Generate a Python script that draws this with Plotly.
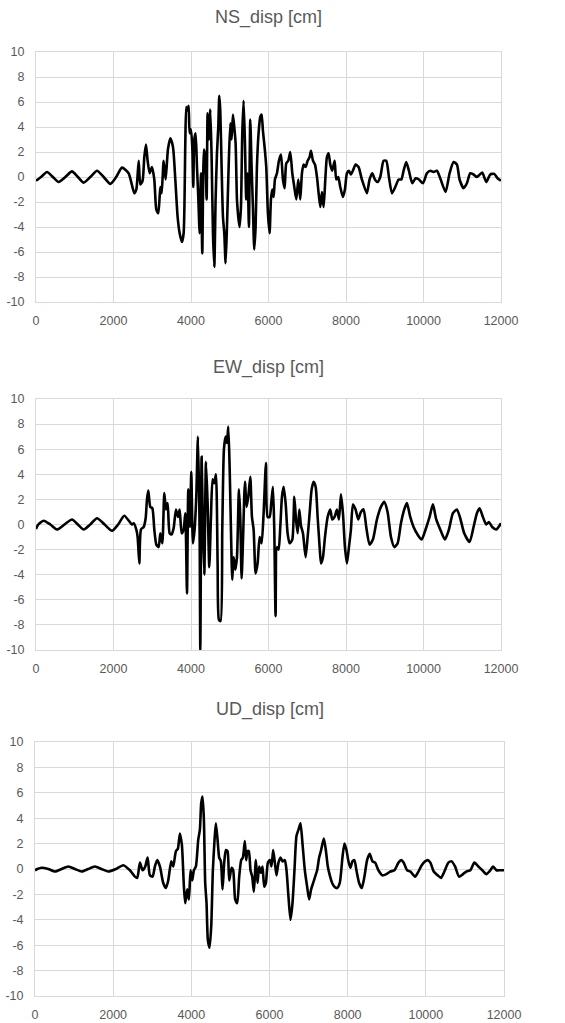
####### IMPORTS #######
import plotly.graph_objects as go
from plotly.subplots import make_subplots
####### IMPORTS #######

####### DADOS #######
# Valores (tempo x deslocamento em cm)
t_ns = [0, 130, 284, 435, 585, 757, 929, 1080, 1230, 1402, 1574, 1746, 1918, 2070, 2219, 2390, 2537, 2589,
        2650, 2692, 2750, 2795, 2838, 2881, 2933,
        2993, 3053, 3105, 3157, 3208, 3242, 3294, 3345, 3405, 3466, 3535, 3595, 3655, 3707, 3767, 3810, 3853,
        3879, 3913, 3939, 3965, 3999, 4033, 4059, 4085, 4119, 4154, 4188, 4223, 4257, 4291, 4334, 4369, 4403,
        4429, 4463, 4498, 4532, 4567, 4601, 4635, 4670, 4704, 4730, 4756, 4790, 4825, 4859, 4893, 4928, 4971,
        5014, 5048, 5082, 5117, 5151, 5186, 5220, 5254, 5289, 5323, 5357, 5392, 5426, 5460, 5495, 5529, 5564,
        5598, 5632, 5667, 5701, 5744, 5787, 5822, 5856, 5899, 5942, 5985, 6028, 6063, 6097, 6132, 6166, 6218,
        6269, 6321, 6373, 6416, 6459, 6510, 6562, 6614, 6666, 6717, 6769, 6820, 6863, 6906, 6958, 7010, 7062,
        7096, 7148, 7199, 7251, 7294, 7337, 7380, 7423, 7466, 7508, 7551, 7594, 7645, 7706, 7749, 7800, 7852,
        7921, 7972, 8024, 8075, 8127, 8178, 8247, 8324, 8410, 8539, 8608, 8677, 8746, 8815, 8884, 8970, 9039,
        9108, 9186, 9272, 9358, 9427, 9486, 9555, 9624, 9710, 9796, 9882, 9985, 10088, 10174, 10260, 10346,
        10432, 10570, 10673, 10776, 10862, 10931, 11034, 11120, 11206, 11292, 11378, 11515, 11618, 11722,
        11825, 11911, 12000]
ns_disp = [-0.3, 0.0, 0.4, 0.0, -0.4, 0.0, 0.45, 0.0, -0.45, 0.0, 0.5, 0.0, -0.55, 0.0, 0.75, 0.3, -1.3, -1.0,
           1.3, -0.6, -0.3, 1.6, 2.6, 1.3, 0.3,
           0.8, -0.2, -2.6, -2.9, -0.8, -1.3, 1.3, -0.2, 2.2, 3.1, 2.4, -0.2, -3.2, -4.5, -5.2, -4.5, 2.7,
           5.6, 5.3, 5.7, 3.5, 3.8, 2.4, -0.8, 3.0, 3.5, 0.8, -1.6, -4.5, 0.3, -6.1, 2.2, 1.6, -1.8,
           5.1, 3.0, 5.4, 1.6, -4.5, -7.2, -1.8, 1.9, 4.0, 6.5, 5.3, 0.8, -3.2, -4.5, -6.9, -4.0, 0.8,
           4.3, 3.0, 5.0, 4.0, 2.7, -1.8, -3.2, -4.0, -2.4, 3.5, 6.1, 2.7, -1.8, 0.3, -4.0, 4.6, 0.8,
           -2.4, -5.8, -4.0, 0.8, 3.5, 4.8, 5.0, 3.7, 2.4, 0.8, -2.9, -4.5, -1.8, -1.0, -1.6, -0.2, 0.3,
           1.3, 1.8, -0.2, -0.9, 1.1, 1.3, 2.0, 0.3, -0.8, -1.8, -0.2, -1.8, 0.3, 1.0, 0.8, 1.3, 1.6,
           2.1, 1.3, 1.0, 0.0, -1.3, -2.4, -1.2, -2.4, -0.2, 1.6, 1.9, 1.0, 0.5, 1.3, -0.2, 0.0, -0.8,
           -1.6, -1.0, 0.3, 0.5, 0.2, 0.5, 1.0, 0.8, -0.2, -1.3, -0.2, 0.3, -0.2, -0.4, 0.0, 1.3, 1.3,
           0.0, -1.3, -0.8, -0.2, -0.2, 0.5, 1.2, 0.5, -0.5, -0.1, -0.2, -0.5, 0.3, 0.5, 0.4, 0.5,
           -0.1, -1.2, 0.3, 1.2, 1.0, -0.2, -0.9, -0.5, 0.3, 0.2, 0.0, 0.35, -0.4, 0.2,
           0.25, -0.1, -0.3]

t_ew = [0, 60, 198, 370, 542, 735, 929, 1080, 1230, 1400, 1574, 1770, 1961, 2120, 2279, 2477, 2520, 2589,
        2623, 2666, 2709, 2778, 2830, 2864, 2898,
        2950, 3002, 3053, 3105, 3165, 3208, 3260, 3311, 3354, 3397, 3449, 3500, 3552, 3612, 3664, 3707, 3759,
        3810, 3853, 3896, 3930, 3973, 4007, 4050, 4093, 4136, 4179, 4222, 4240, 4274, 4309, 4343, 4386, 4429,
        4472, 4515, 4558, 4601, 4644, 4687, 4721, 4764, 4807, 4850, 4893, 4928, 4962, 4997, 5031, 5065, 5100,
        5143, 5186, 5237, 5272, 5306, 5340, 5392, 5435, 5478, 5530, 5573, 5616, 5667, 5719, 5771, 5822, 5874,
        5934, 5977, 6029, 6071, 6114, 6149, 6183, 6218, 6261, 6304, 6347, 6390, 6442, 6493, 6545, 6614, 6666,
        6709, 6752, 6795, 6838, 6889, 6958, 7010, 7062, 7113, 7165, 7217, 7268, 7320, 7354, 7406, 7457, 7526,
        7594, 7646, 7706, 7766, 7818, 7870, 7921, 7973, 8024, 8076, 8127, 8179, 8247, 8316, 8385, 8454, 8522,
        8608, 8694, 8798, 8901, 8987, 9073, 9160, 9246, 9332, 9418, 9504, 9572, 9658, 9744, 9847, 9951, 10054,
        10157, 10243, 10329, 10432, 10553, 10656, 10759, 10862, 10948, 11051, 11189, 11292, 11378, 11447,
        11533, 11618, 11687, 11773, 11876, 12000]
ew_disp = [-0.35, 0.0, 0.3, 0.0, -0.4, 0.0, 0.4, 0.0, -0.4, 0.0, 0.5, 0.0, -0.5, 0.0, 0.7, 0.0, 0.1, -0.4,
           -1.0, -3.1, -0.4, -0.2, 0.5, 2.0, 2.7,
           1.4, 1.3, -0.4, -1.6, -1.8, -0.7, -1.5, 2.5, 1.2, 1.7, -0.7, -0.8, -0.3, 1.2, 0.6, 1.2, -0.7,
           -0.4, 0.9, -5.5, 2.8, -0.2, 4.2, -1.5, -0.4, 2.2, 7.0, -0.4, -10.0, 5.4, -0.4, -4.0, 5.0, 1.7,
           -3.4, 0.6, 3.6, 3.3, 4.0, -3.1, -7.6, -7.7, -0.4, 6.0, 7.0, 6.5, 7.8, 4.6, -0.4, -4.4, -2.6,
           -3.6, -2.6, 2.8, 0.6, -4.3, -1.5, 3.4, 1.4, 2.2, 3.8, 0.6, -0.4, -3.9, -3.1, -1.0, -1.5, 0.9,
           4.9, 0.6, 0.6, 1.7, 3.0, -0.4, -7.3, -1.8, -2.0, -0.2, 2.2, 3.0, 1.7, -0.7, -1.5, -1.2, 2.2,
           0.4, -0.7, 1.2, -0.1, -0.7, -2.6, -1.0, 0.9, 2.8, 3.4, 3.0, 0.6, -1.8, -3.1, -2.6, -1.0, 0.6,
           1.2, 0.4, 0.6, 1.2, 0.4, 2.4, 0.9, -1.8, -3.1, -1.8, -0.4, 1.6, 1.2, 0.4, 1.0, 1.2, -0.2,
           -1.6, -1.2, 0.4, 1.4, 1.8, 1.0, -1.0, -1.8, -1.5, 0.1, 1.2, 1.7, 0.6, -0.2, -0.8, -1.2, -0.4,
           0.6, 1.6, 0.4, -0.4, -1.2, -0.4, 0.9, 1.2, 0.5, -0.7, -1.4, -0.2, 0.9, 1.3,
           0.6, 0.0, 0.2, -0.2, -0.4, 0.1]

t_ud = [0, 60, 170, 340, 511, 680, 852, 1020, 1193, 1360, 1534, 1700, 1875, 2070, 2259, 2429, 2557, 2617,
        2685, 2753, 2821, 2881, 2940, 3009, 3068,
        3128, 3196, 3281, 3349, 3409, 3486, 3537, 3605, 3656, 3707, 3758, 3810, 3844, 3895, 3938, 3980, 4023,
        4065, 4117, 4176, 4219, 4253, 4287, 4321, 4355, 4389, 4423, 4466, 4509, 4551, 4594, 4628, 4671, 4713,
        4756, 4798, 4841, 4884, 4926, 4969, 5029, 5071, 5122, 5174, 5225, 5276, 5318, 5369, 5403, 5437, 5471,
        5514, 5557, 5600, 5651, 5693, 5736, 5779, 5822, 5864, 5907, 5958, 6009, 6051, 6094, 6137, 6179, 6230,
        6282, 6333, 6392, 6435, 6486, 6537, 6588, 6639, 6690, 6742, 6793, 6844, 6904, 6963, 7014, 7065, 7117,
        7168, 7219, 7270, 7321, 7390, 7441, 7492, 7543, 7603, 7662, 7730, 7798, 7866, 7918, 7969, 8020, 8071,
        8122, 8173, 8224, 8293, 8361, 8429, 8497, 8565, 8634, 8702, 8787, 8889, 8992, 9094, 9196, 9299, 9370,
        9435, 9520, 9605, 9725, 9810, 9895, 9980, 10049, 10117, 10202, 10304, 10389, 10475, 10577, 10662,
        10747, 10850, 10952, 11037, 11140, 11242, 11344, 11446, 11549, 11651, 11719, 11804, 11906, 12000]
ud_disp = [-0.1, 0.0, 0.1, 0.0, -0.2, 0.0, 0.2, 0.0, -0.2, 0.0, 0.2, 0.0, -0.2, 0.0, 0.3, -0.1, -0.6, -0.7,
           0.5, -0.1, 0.2, 0.9, -0.5, -0.6, 0.2,
           0.7, 0.2, -1.1, -1.5, -0.9, 0.6, 0.2, 1.4, 1.6, 2.8, 1.9, -1.4, -2.7, -1.6, -2.4, -0.1, -0.9,
           -0.1, 0.2, 2.3, 3.1, 5.2, 5.7, 3.9, -1.1, -2.7, -5.6, -6.2, -4.5, -0.1, 2.3, 3.6, 2.3, 0.9,
           0.6, -1.6, 0.5, 1.5, 1.4, -0.9, 0.1, -0.1, -2.4, -2.7, -0.6, 0.7, 0.9, 2.2, 0.7, 1.4, 1.4,
           -0.1, -0.6, -1.8, 0.7, -1.1, 0.2, -0.3, 0.2, -1.4, -1.1, 0.5, 0.7, 0.2, 1.5, 0.5, -0.5, 0.5,
           0.9, 0.6, 0.7, -0.1, -2.2, -4.0, -2.7, -0.1, 2.6, 3.1, 3.6, 2.0, -0.1, -1.4, -2.4, -1.6, -1.1,
           -0.6, -0.1, 0.9, 1.5, 2.4, 1.5, 0.2, -0.5, -1.1, -1.4, -1.5, -1.1, 0.9, 2.0, 1.5, 0.6, 0.1,
           0.6, 0.7, -0.1, -1.1, -1.5, -0.6, 0.7, 1.2, 0.6, 0.5, -0.1, -0.5, -0.4, -0.2, -0.1, 0.5, 0.7,
           0.5, -0.1, -0.2, -0.6, -0.2, 0.3, 0.6, 0.7, 0.5, -0.2, -0.5, -0.7, -0.2, 0.5, 0.6,
           0.2, -0.6, -0.4, -0.2, -0.1, 0.5, 0.2, -0.1, -0.4, -0.1, 0.2, -0.1, -0.1, -0.1]

titulos = ["NS_disp [cm]", "EW_disp [cm]", "UD_disp [cm]"]
x_ticks = [0, 2000, 4000, 6000, 8000, 10000, 12000]
y_ticks = [-10, -8, -6, -4, -2, 0, 2, 4, 6, 8, 10]
####### DADOS #######

####### GRAFICO #######
fig = make_subplots(rows=3, cols=1)

series = [(t_ns, ns_disp), (t_ew, ew_disp), (t_ud, ud_disp)]
for i, (t, d) in enumerate(series):
    # spline para suavizar a curva como no Excel
    fig.add_trace(go.Scatter(x=t, y=d, mode="lines",
                             line=dict(color="black", width=2.6, shape="spline", smoothing=0.6),
                             showlegend=False, hoverinfo="skip"), row=i + 1, col=1)

# Posicao de cada grafico (em pixels, como na figura original)
W, H = 565, 1023
x_px = [(36, 501), (36, 501), (35, 504)]
y_px = [(52, 302), (399, 650), (742, 996)]
titulo_y = [18, 367, 709]

cinza = "#595959"
grade = "#d9d9d9"
for i in range(3):
    sx = "xaxis" if i == 0 else f"xaxis{i + 1}"
    sy = "yaxis" if i == 0 else f"yaxis{i + 1}"
    fig.layout[sx].update(domain=[x_px[i][0] / W, x_px[i][1] / W], range=[0, 12000],
                          tickmode="array", tickvals=x_ticks, ticktext=[str(v) for v in x_ticks],
                          showgrid=True, gridcolor=grade, gridwidth=1, automargin=False,
                          zeroline=False, showline=True, linecolor=grade, mirror=True,
                          ticks="", ticklabelstandoff=7,
                          tickfont=dict(size=12.5, color=cinza))
    fig.layout[sy].update(domain=[1 - y_px[i][1] / H, 1 - y_px[i][0] / H], range=[-10, 10],
                          tickmode="array", tickvals=y_ticks, ticktext=[str(v) for v in y_ticks],
                          showgrid=True, gridcolor=grade, gridwidth=1, automargin=False,
                          zeroline=False, showline=True, linecolor=grade, mirror=True,
                          ticks="", ticklabelstandoff=8,
                          tickfont=dict(size=12.5, color=cinza))
    fig.add_annotation(text=titulos[i], xref="paper", yref="paper",
                       x=(x_px[i][0] + x_px[i][1]) / 2 / W, y=1 - titulo_y[i] / H,
                       xanchor="center", yanchor="middle", showarrow=False,
                       font=dict(size=18, color=cinza))

fig.update_layout(width=W, height=H, margin=dict(l=0, r=0, t=0, b=0, autoexpand=False),
                  paper_bgcolor="white", plot_bgcolor="white",
                  font=dict(family="Liberation Sans, Arial, sans-serif"))

fig.write_html("out.html", config={"displayModeBar": False},
               post_script="document.body.style.margin='0';"
                           "document.documentElement.style.overflow='hidden';")
####### GRAFICO #######
